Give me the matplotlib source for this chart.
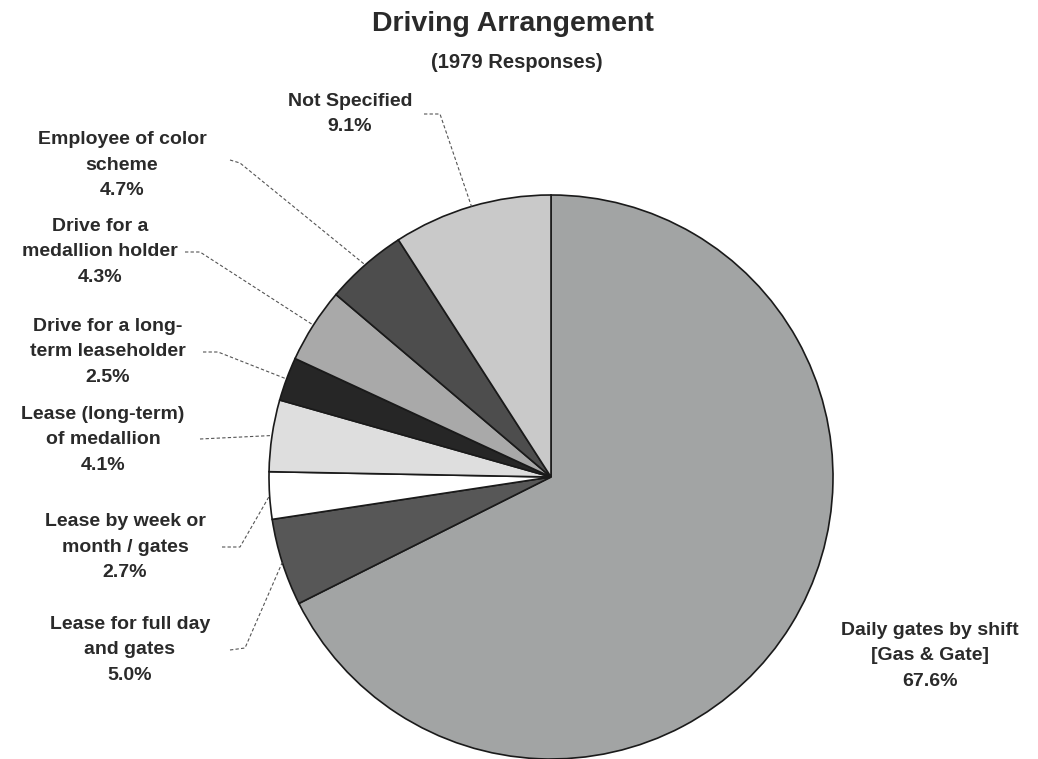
import matplotlib.pyplot as plt
import numpy as np

plt.rcParams['font.family'] = ['Liberation Sans', 'DejaVu Sans']

# podaci sa grafa (redoslijed u smjeru kazaljke od vrha)
kategorije = [
    'Daily gates by shift\n[Gas & Gate]',
    'Lease for full day\nand gates',
    'Lease by week or\nmonth / gates',
    'Lease (long-term)\nof medallion',
    'Drive for a long-\nterm leaseholder',
    'Drive for a\nmedallion holder',
    'Employee of color\nscheme',
    'Not Specified',
]
postoci = [67.6, 5.0, 2.7, 4.1, 2.5, 4.3, 4.7, 9.1]
naslov = 'Driving Arrangement'
podnaslov = '(1979 Responses)'

# boje (sivi tonovi iz skena)
boje = ['#a2a4a4', '#575757', '#ffffff', '#dedede', '#262626', '#a9a9a9', '#4d4d4d', '#c9c9c9']

# raspored: polozaj labela i pocetak crtkanih linija (pikseli slike)
pozicije_labela = [(930, 656), (130, 650), (125, 547), (103, 440),
                   (108, 352), (100, 252), (122, 165), (350, 114)]
pocetci_linija = [None,
                  [(230, 650), (245, 648)],
                  [(222, 547), (240, 547)],
                  [(200, 439)],
                  [(203, 352), (218, 352)],
                  [(185, 252), (200, 252)],
                  [(230, 160), (240, 163)],
                  [(424, 114), (440, 114)]]

W, H = 1038, 759
centar = (551, 477)
radijus = 282

fig = plt.figure(figsize=(W / 100, H / 100), dpi=100)
ax = fig.add_axes([0, 0, 1, 1])

wedges, _ = ax.pie(postoci, colors=boje, center=centar, radius=radijus,
                   startangle=-90, counterclock=True,
                   wedgeprops=dict(edgecolor='#1a1a1a', linewidth=1.2))

ax.set_xlim(0, W)
ax.set_ylim(H, 0)
ax.set_aspect('equal')
ax.axis('off')

# labele i crtkane linije
for i, w in enumerate(wedges):
    tekst = kategorije[i] + '\n' + f'{postoci[i]:.1f}%'
    x, y = pozicije_labela[i]
    ax.text(x, y, tekst, ha='center', va='center', fontsize=14,
            fontweight='bold', color='#2a2a2a', linespacing=1.65)
    if pocetci_linija[i] is None:
        continue
    kut = np.deg2rad((w.theta1 + w.theta2) / 2)
    kraj = (centar[0] + radijus * np.cos(kut), centar[1] + radijus * np.sin(kut))
    tocke = pocetci_linija[i] + [kraj]
    ax.plot([p[0] for p in tocke], [p[1] for p in tocke], color='#555555',
            linewidth=0.8, linestyle=(0, (3, 2)))

# naslov
ax.text(513, 24, naslov, ha='center', va='center', fontsize=20.5,
        fontweight='bold', color='#2a2a2a')
ax.text(517, 62, podnaslov, ha='center', va='center', fontsize=14.5,
        fontweight='bold', color='#2a2a2a')

fig.savefig('out.png', dpi=100)
